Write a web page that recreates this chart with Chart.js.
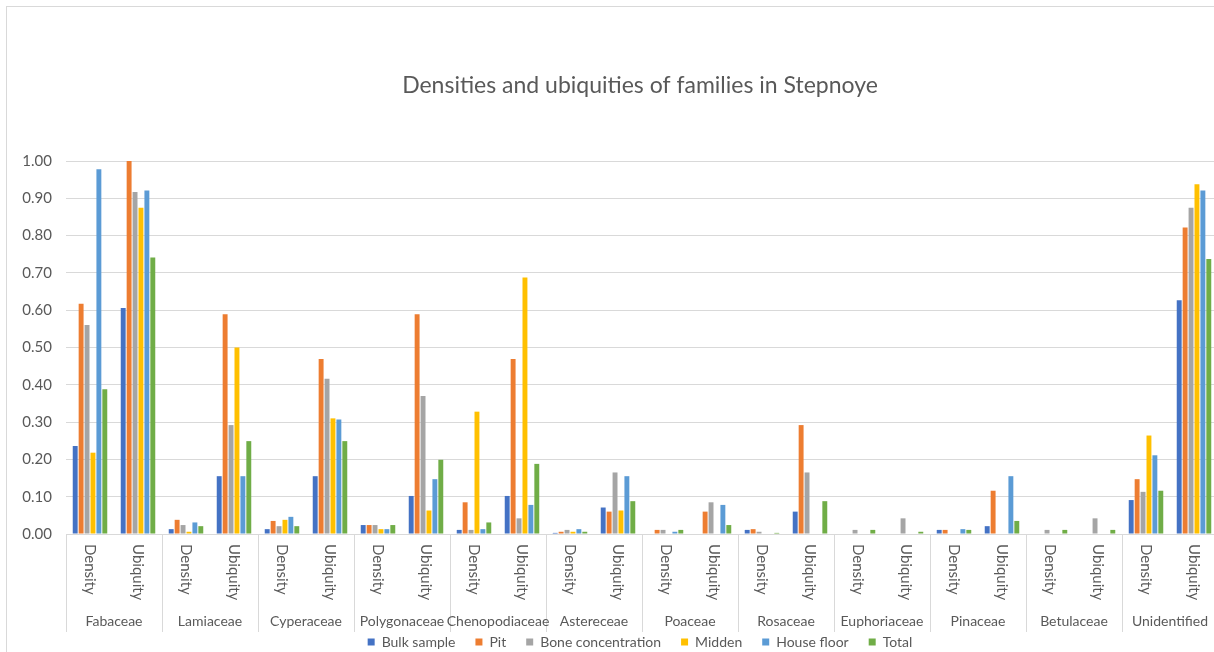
<!DOCTYPE html>
<html>
<head>
<meta charset="utf-8">
<title>Densities and ubiquities of families in Stepnoye</title>
<script src="https://cdn.jsdelivr.net/npm/chart.js@4.4.1/dist/chart.umd.min.js"></script>
<style>
    html, body { margin: 0; padding: 0; background: #fff; overflow: hidden; }
    #frame { position: absolute; left: 6px; top: 6px; width: 1300px; height: 700px; border: 1px solid #d9d9d9; }
    #wrap { position: absolute; left: 0; top: 0; width: 1280px; height: 659px; }
</style>
</head>
<body>
<div id="frame"></div>
<div id="wrap"><canvas id="chart" width="1280" height="659"></canvas></div>
<script>
// Families and the two measures shown for each
const families = ['Fabaceae', 'Lamiaceae', 'Cyperaceae', 'Polygonaceae', 'Chenopodiaceae', 'Astereceae',
    'Poaceae', 'Rosaceae', 'Euphoriaceae', 'Pinaceae', 'Betulaceae', 'Unidentified'];
const measures = ['Density', 'Ubiquity'];
const yTicks = [0, 0.1, 0.2, 0.3, 0.4, 0.5, 0.6, 0.7, 0.8, 0.9, 1.0];

// Values per context, ordered family by family: Density, Ubiquity
const bulkSample = [0.236, 0.606, 0.013, 0.155, 0.013, 0.155, 0.024, 0.102, 0.011, 0.102, 0.003, 0.071,
    0, 0, 0.011, 0.060, 0, 0, 0.011, 0.021, 0, 0, 0.091, 0.627];
const pit = [0.617, 1.000, 0.038, 0.589, 0.035, 0.469, 0.024, 0.589, 0.085, 0.469, 0.006, 0.060,
    0.011, 0.060, 0.013, 0.292, 0, 0, 0.011, 0.116, 0, 0, 0.147, 0.822];
const boneConcentration = [0.560, 0.917, 0.024, 0.292, 0.021, 0.416, 0.024, 0.370, 0.011, 0.042, 0.011, 0.165,
    0.011, 0.085, 0.006, 0.165, 0.011, 0.042, 0, 0, 0.011, 0.042, 0.113, 0.875];
const midden = [0.218, 0.875, 0.006, 0.500, 0.038, 0.310, 0.013, 0.063, 0.328, 0.688, 0.006, 0.063,
    0, 0, 0, 0, 0, 0, 0, 0, 0, 0, 0.264, 0.938];
const houseFloor = [0.978, 0.921, 0.031, 0.155, 0.046, 0.307, 0.013, 0.147, 0.013, 0.078, 0.013, 0.155,
    0.006, 0.078, 0, 0, 0, 0, 0.013, 0.155, 0, 0, 0.211, 0.921];
const total = [0.388, 0.741, 0.021, 0.249, 0.021, 0.249, 0.024, 0.199, 0.031, 0.188, 0.006, 0.088,
    0.011, 0.024, 0.003, 0.088, 0.011, 0.006, 0.011, 0.035, 0.011, 0.011, 0.116, 0.737];

const textColor = '#595959';
const gridColor = '#d9d9d9';
const fontFamily = 'Lato, "Open Sans", sans-serif';

// one category per (family, measure) pair
const labels = [];
families.forEach(fam => measures.forEach(m => labels.push([m, fam])));

// Draws the two-level category axis: rotated measure names, family names, separators
const groupAxis = {
    id: 'groupAxis',
    afterDraw(chart) {
        const {ctx, chartArea} = chart;
        const xScale = chart.scales.x;
        const half = (xScale.right - xScale.left) / labels.length / 2;
        const base = chartArea.bottom;

        ctx.save();
        ctx.strokeStyle = gridColor;
        ctx.lineWidth = 1;
        for (let f = 0; f <= families.length; f++) {
            const px = f < families.length
                ? xScale.getPixelForValue(f * 2) - half
                : xScale.getPixelForValue(f * 2 - 1) + half;
            const sx = Math.round(px) + 0.5;
            ctx.beginPath();
            ctx.moveTo(sx, base);
            ctx.lineTo(sx, base + 98);
            ctx.stroke();
        }

        ctx.fillStyle = textColor;
        ctx.font = '15px ' + fontFamily;
        labels.forEach((lab, i) => {
            const px = xScale.getPixelForValue(i);
            ctx.save();
            ctx.translate(px, base + 10);
            ctx.rotate(Math.PI / 2);
            ctx.textAlign = 'left';
            ctx.textBaseline = 'middle';
            ctx.fillText(lab[0], 0, 0);
            ctx.restore();
        });

        ctx.font = '14px ' + fontFamily;
        ctx.textAlign = 'center';
        ctx.textBaseline = 'middle';
        families.forEach((fam, f) => {
            const px = (xScale.getPixelForValue(f * 2) + xScale.getPixelForValue(f * 2 + 1)) / 2;
            ctx.fillText(fam, px, base + 87);
        });
        ctx.restore();
    }
};

function makeSet(label, data, color) {
    return {
        label: label,
        data: data,
        backgroundColor: color,
        borderWidth: 0,
        categoryPercentage: 0.74,
        barPercentage: 0.83
    };
}

new Chart(document.getElementById('chart'), {
    type: 'bar',
    data: {
        labels: labels,
        datasets: [
            makeSet('Bulk sample', bulkSample, '#4472c4'),
            makeSet('Pit', pit, '#ed7d31'),
            makeSet('Bone concentration', boneConcentration, '#a5a5a5'),
            makeSet('Midden', midden, '#ffc000'),
            makeSet('House floor', houseFloor, '#5b9bd5'),
            makeSet('Total', total, '#70ad47')
        ]
    },
    options: {
        responsive: false,
        animation: false,
        layout: { padding: { left: 7, right: 7, top: 0, bottom: 0 } },
        scales: {
            x: {
                grid: { display: false },
                border: { display: false },
                ticks: { display: false },
                afterFit(scale) { scale.height = 81; }
            },
            y: {
                min: 0,
                max: 1,
                afterBuildTicks(scale) { scale.ticks = yTicks.map(v => ({ value: v })); },
                grid: { color: gridColor, lineWidth: 1, drawTicks: false },
                border: { display: false },
                ticks: {
                    padding: 14,
                    color: textColor,
                    font: { family: fontFamily, size: 15 },
                    callback: v => v.toFixed(2)
                },
                afterFit(scale) { scale.width = 59; }
            },
            // empty space on the right of the plot
            yRight: {
                position: 'right',
                grid: { display: false },
                border: { display: false },
                ticks: { display: false },
                afterFit(scale) { scale.width = 55; }
            }
        },
        plugins: {
            title: {
                display: true,
                text: 'Densities and ubiquities of families in Stepnoye',
                color: textColor,
                font: { family: fontFamily, size: 23, weight: 'normal', lineHeight: 1.2 },
                padding: { top: 71.7, bottom: 61.7 }
            },
            legend: {
                position: 'bottom',
                labels: {
                    color: textColor,
                    font: { family: fontFamily, size: 14 },
                    boxWidth: 7,
                    boxHeight: 7,
                    padding: 20
                }
            },
            tooltip: { enabled: false }
        }
    },
    plugins: [groupAxis]
});
</script>
</body>
</html>
